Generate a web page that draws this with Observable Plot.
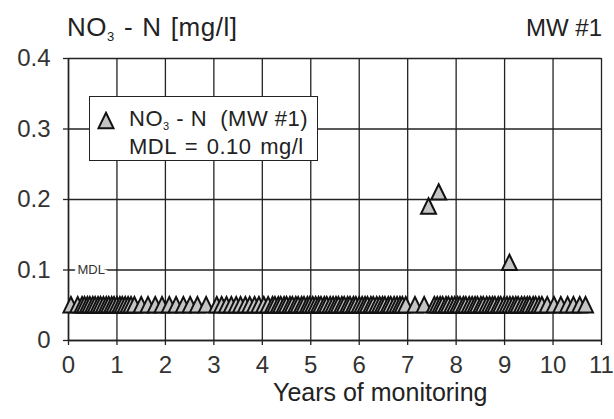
<!DOCTYPE html>
<html>
<head>
<meta charset="utf-8">
<script src="https://cdn.jsdelivr.net/npm/d3@7"></script>
<script src="https://cdn.jsdelivr.net/npm/@observablehq/plot@0.6"></script>
<style>
  html, body { margin: 0; padding: 0; background: #fff; }
  #wrap { position: relative; width: 614px; height: 419px; font-family: "Liberation Sans", Arial, sans-serif; color: #222; }
  #wrap svg { position: absolute; left: 0; top: 0; }
  .ov { position: absolute; white-space: nowrap; line-height: 1.15; }
  .lg { line-height: 1; font-size: 22px; letter-spacing: 0.5px; }
  sub { font-size: 50%; vertical-align: -0.35em; line-height: 0; }
</style>
</head>
<body>
<div id="wrap">
  <div class="ov" style="left:67px; top:13px; font-size:26px; word-spacing:1.5px; letter-spacing:0.5px;">NO<sub>3</sub> - N [mg/l]</div>
  <div class="ov" style="right:12px; top:14px; font-size:24px;">MW #1</div>
  <div class="ov" id="legend" style="left:89px; top:96px; width:227px; height:63px; background:#fff; border:1.5px solid #222; z-index:2;">
    <svg width="22" height="20" style="position:absolute; left:5px; top:14px;" id="legsym"></svg>
    <div class="ov lg" style="left:39px; top:11px;">NO<sub>3</sub> - N&nbsp; (MW #1)</div>
    <div class="ov lg" style="left:39px; top:39px; word-spacing:2px;">MDL = 0.10 mg/l</div>
  </div>
  <div class="ov" style="left:273px; top:378px; font-size:25px;">Years of monitoring</div>
</div>
<script>
// ---- data ----
const xTicks = [0, 1, 2, 3, 4, 5, 6, 7, 8, 9, 10, 11];
const yTicks = [0, 0.1, 0.2, 0.3, 0.4];
const mdl = 0.10;
const nonDetectValue = 0.05; // non-detects plotted at half the MDL
const nonDetectYears = [
  0.05, 0.19,
  0.28, 0.33, 0.39, 0.44, 0.50, 0.55, 0.61, 0.66, 0.72, 0.78, 0.83, 0.89, 0.94, 1.00, 1.06, 1.11, 1.17, 1.23, 1.29, 1.36,
  1.50, 1.64, 1.79, 1.93, 2.08, 2.22, 2.37, 2.51, 2.66,
  2.84, 3.06,
  3.16, 3.26, 3.36, 3.46, 3.55, 3.65, 3.74, 3.84, 3.93, 4.03, 4.12,
  4.21, 4.26, 4.33, 4.38, 4.45, 4.50, 4.57, 4.62, 4.69, 4.74, 4.81, 4.86, 4.93, 4.98, 5.04, 5.10, 5.16, 5.21,
  5.28, 5.33, 5.40, 5.46, 5.52, 5.57, 5.64, 5.69, 5.76, 5.81, 5.88, 5.93, 6.00, 6.06, 6.12, 6.17, 6.24, 6.29,
  6.36, 6.42, 6.48, 6.53, 6.60, 6.65, 6.72, 6.78, 6.84, 6.89, 6.96,
  7.15, 7.34,
  7.55, 7.61, 7.67, 7.72, 7.79, 7.84, 7.91, 7.97, 8.03, 8.08, 8.15, 8.20, 8.27, 8.33, 8.39, 8.44, 8.51, 8.56,
  8.63, 8.69, 8.75, 8.80, 8.87, 8.92, 8.99, 9.05, 9.11, 9.17, 9.23, 9.28, 9.35, 9.41, 9.47, 9.52, 9.59, 9.64,
  9.71, 9.77,
  9.88, 10.02, 10.16, 10.30, 10.42,
  10.55, 10.67
];
const detectYears = [7.43, 7.64, 9.10];
const detectValues = [0.19, 0.21, 0.11];

const samples = nonDetectYears.map(t => ({year: t, value: nonDetectValue}))
  .concat(detectYears.map((t, i) => ({year: t, value: detectValues[i]})))
  .sort((a, b) => a.year - b.year);

// triangle symbol (slightly tall, like the reference)
const tri = {
  draw(ctx, size) {
    const r = Math.sqrt(size / Math.PI);
    const hw = r * 1.36, up = r * 1.5, down = r * 1.3;
    ctx.moveTo(0, -up);
    ctx.lineTo(hw, down);
    ctx.lineTo(-hw, down);
    ctx.closePath();
  }
};

const ink = "#222";
const chart = Plot.plot({
  width: 614,
  height: 419,
  marginTop: 58,
  marginLeft: 68,
  marginRight: 13,
  marginBottom: 79,
  style: { fontFamily: "'Liberation Sans', Arial, sans-serif", fontSize: "24px", color: "#333", background: "transparent", overflow: "visible" },
  x: { domain: [0, 11], label: null },
  y: { domain: [0, 0.4], label: null },
  marks: [
    Plot.gridX(xTicks, { stroke: ink, strokeOpacity: 1, strokeWidth: 1.3 }),
    Plot.gridY(yTicks, { stroke: ink, strokeOpacity: 1, strokeWidth: 1.3 }),
    Plot.axisX(xTicks, { tickSize: 5, tickPadding: 10, fontSize: 24, stroke: ink, strokeWidth: 1.3, tickFormat: d => String(d), label: null }),
    Plot.axisY(yTicks, { tickSize: 5, tickPadding: 13, fontSize: 24, stroke: ink, strokeWidth: 1.3, tickFormat: d => d === 0 ? "0" : d.toFixed(1), label: null }),
    Plot.ruleY([0], { stroke: ink, strokeWidth: 1.5 }),
    Plot.ruleX([0], { stroke: ink, strokeWidth: 1.5 }),
    Plot.text(["MDL"], { x: 0, y: mdl, dx: 9, textAnchor: "start", fontSize: 13, fill: "#333", stroke: "white", strokeWidth: 7 }),
    Plot.dot(samples, { x: "year", y: "value", symbol: tri, r: 5.5, fill: "#c4c4c4", stroke: "#111", strokeWidth: 2 })
  ]
});
document.getElementById("wrap").prepend(chart);

// legend symbol, drawn with the same triangle
const leg = d3.select("#legsym");
leg.append("path")
  .attr("d", d3.symbol(tri, Math.PI * 5.5 * 5.5)())
  .attr("transform", "translate(11,10)")
  .attr("fill", "#c4c4c4").attr("stroke", "#111").attr("stroke-width", 2);
</script>
</body>
</html>
